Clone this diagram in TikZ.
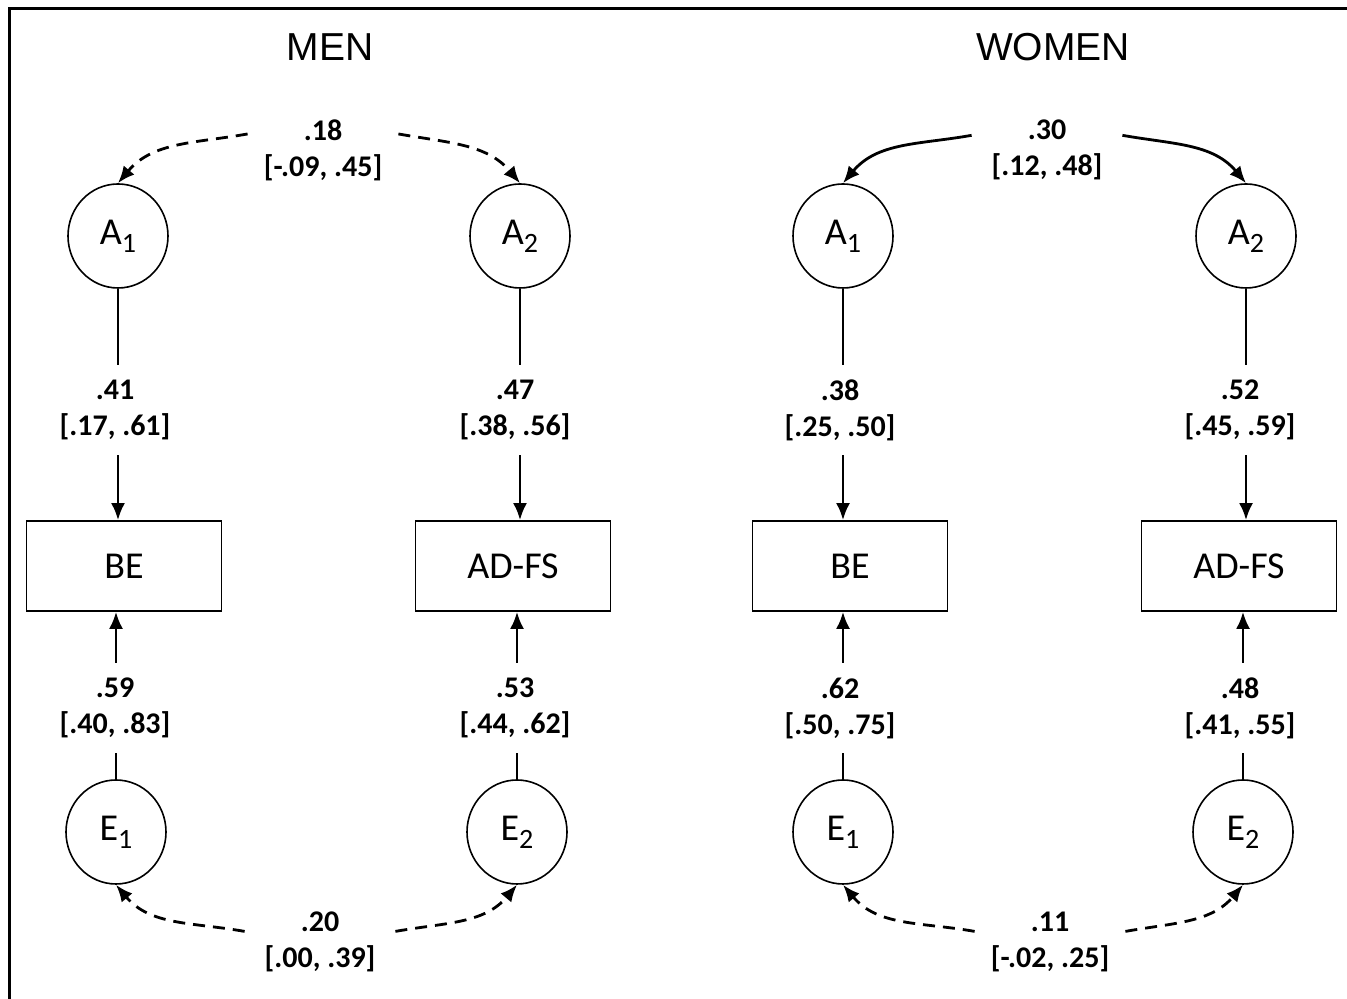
\documentclass[tikz,border=0pt]{standalone}
\usepackage{fontspec}
\setmainfont{Carlito}
\newfontfamily\titlefont{Liberation Sans}
\usetikzlibrary{arrows.meta,shapes.geometric}
\newcommand\coef[2]{#1\\{}[#2]}
\newcommand\sub[1]{\raisebox{-0.45ex}{\fontsize{14}{14}\selectfont #1}}
\tikzset{
  latent/.style={draw,ellipse,line width=0.8pt,minimum width=50pt,minimum height=52pt,inner sep=0pt,font=\fontsize{19}{22}\selectfont},
  observed/.style={draw,rectangle,line width=0.8pt,minimum width=97.5pt,minimum height=45pt,font=\fontsize{19}{22}\selectfont},
  grouptitle/.style={font=\titlefont\fontsize{19.5}{22}\selectfont},
  est/.style={align=center,font=\bfseries\fontsize{15}{18}\selectfont,minimum height=45pt,inner sep=0pt},
  corr/.style={est,minimum width=75pt},
  plain/.style={line width=1.4pt},
  link/.style={plain,-{Latex[length=8.5pt,width=7pt]}},
  cov/.style={link,dash pattern=on 6pt off 4pt}
}
\begin{document}
\begin{tikzpicture}[x=0.5pt,y=0.5pt]
  \useasboundingbox (0,0) rectangle (1347,999);
  \draw[line width=1.5pt] (9,-20) rectangle (1370,990);
  \node[grouptitle] (mtitle) at (330,952) {MEN};
  \node[latent] (mA1) at (118,763) {A\sub{1}};
  \node[latent] (mA2) at (520,763) {A\sub{2}};
  \node[observed] (mBE) at (124,433) {BE};
  \node[observed] (mAD) at (513,433) {AD-FS};
  \node[latent] (mE1) at (116,167) {E\sub{1}};
  \node[latent] (mE2) at (517,167) {E\sub{2}};
  \node[est] (ma1) at (115,589) {\coef{.41}{.17, .61}};
  \node[est] (ma2) at (515,589) {\coef{.47}{.38, .56}};
  \node[est] (me1) at (115,291) {\coef{.59}{.40, .83}};
  \node[est] (me2) at (515,291) {\coef{.53}{.44, .62}};
  \node[corr] (mca) at (323,849) {\coef{.18}{-.09, .45}};
  \node[corr] (mce) at (320,57) {\coef{.20}{.00, .39}};
  \draw[plain] (mA1.south) -- (mA1 |- ma1.north);
  \draw[link] (mA1 |- ma1.south) -- (mA1 |- mBE.north);
  \draw[plain] (mA2.south) -- (mA2 |- ma2.north);
  \draw[link] (mA2 |- ma2.south) -- (mA2 |- mAD.north);
  \draw[plain] (mE1.north) -- (mE1 |- me1.south);
  \draw[link] (mE1 |- me1.north) -- (mE1 |- mBE.south);
  \draw[plain] (mE2.north) -- (mE2 |- me2.south);
  \draw[link] (mE2 |- me2.north) -- (mE2 |- mAD.south);
  \draw[cov] (mca.168) to[out=190,in=50] (mA1.north);
  \draw[cov] (mca.12) to[out=-10,in=130] (mA2.north);
  \draw[cov] (mce.172) to[out=170,in=-50] (mE1.south);
  \draw[cov] (mce.8) to[out=10,in=230] (mE2.south);
  \node[grouptitle] (wtitle) at (1053,952) {WOMEN};
  \node[latent] (wA1) at (843,763) {A\sub{1}};
  \node[latent] (wA2) at (1246,763) {A\sub{2}};
  \node[observed] (wBE) at (850,433) {BE};
  \node[observed] (wAD) at (1239,433) {AD-FS};
  \node[latent] (wE1) at (843,167) {E\sub{1}};
  \node[latent] (wE2) at (1243,167) {E\sub{2}};
  \node[est] (wa1) at (840,589) {\coef{.38}{.25, .50}};
  \node[est] (wa2) at (1240,589) {\coef{.52}{.45, .59}};
  \node[est] (we1) at (840,291) {\coef{.62}{.50, .75}};
  \node[est] (we2) at (1240,291) {\coef{.48}{.41, .55}};
  \node[corr] (wca) at (1047,849) {\coef{.30}{.12, .48}};
  \node[corr] (wce) at (1050,57) {\coef{.11}{-.02, .25}};
  \draw[plain] (wA1.south) -- (wA1 |- wa1.north);
  \draw[link] (wA1 |- wa1.south) -- (wA1 |- wBE.north);
  \draw[plain] (wA2.south) -- (wA2 |- wa2.north);
  \draw[link] (wA2 |- wa2.south) -- (wA2 |- wAD.north);
  \draw[plain] (wE1.north) -- (wE1 |- we1.south);
  \draw[link] (wE1 |- we1.north) -- (wE1 |- wBE.south);
  \draw[plain] (wE2.north) -- (wE2 |- we2.south);
  \draw[link] (wE2 |- we2.north) -- (wE2 |- wAD.south);
  \draw[link] (wca.169) to[out=190,in=50] (wA1.north);
  \draw[link] (wca.11) to[out=-10,in=130] (wA2.north);
  \draw[cov] (wce.172) to[out=170,in=-50] (wE1.south);
  \draw[cov] (wce.8) to[out=10,in=230] (wE2.south);
\end{tikzpicture}
\end{document}
